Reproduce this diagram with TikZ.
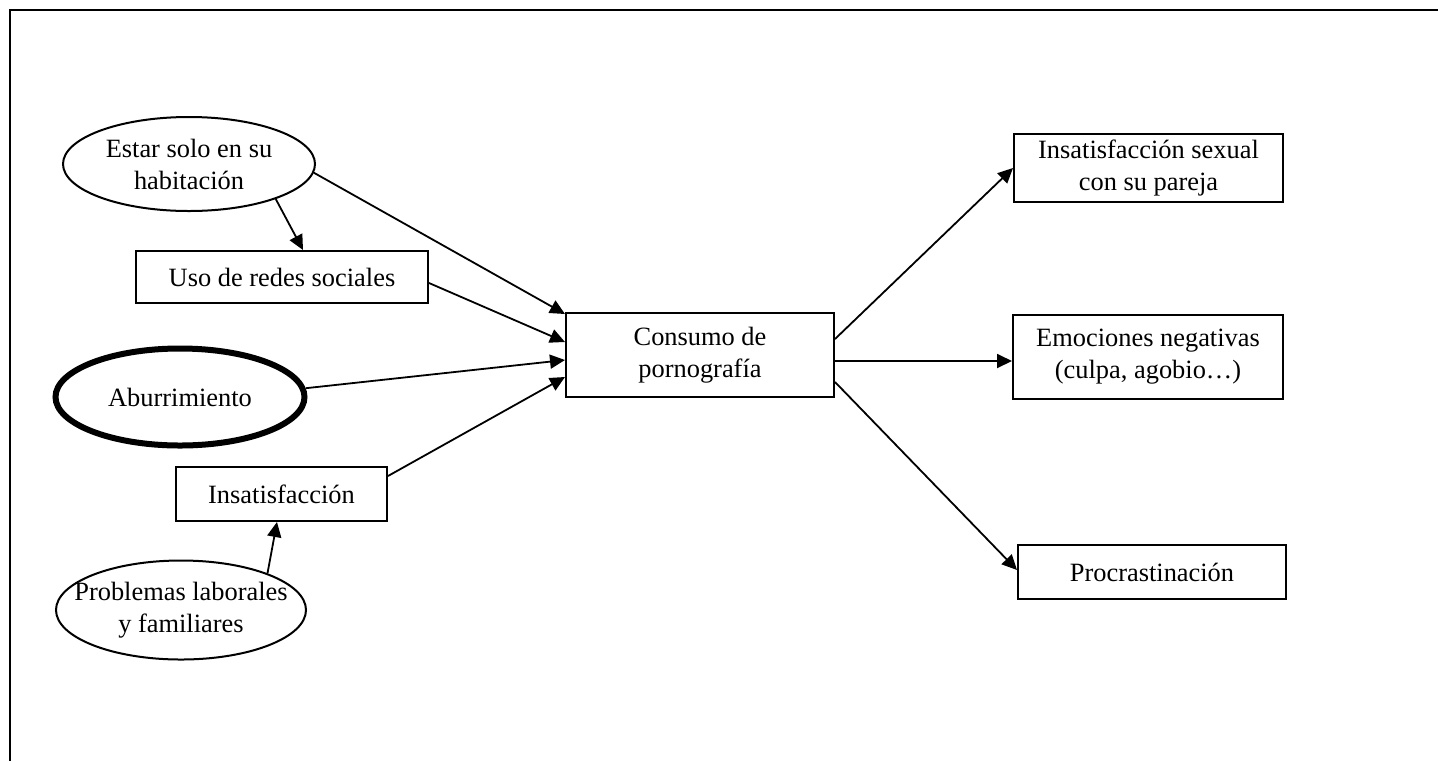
\documentclass[tikz,border=0pt]{standalone}
\usepackage{fontspec}
\setmainfont{Liberation Serif}
\usetikzlibrary{shapes.geometric,arrows.meta,calc}
\begin{document}
\begin{tikzpicture}[x=0.5pt,y=-0.5pt,
  every node/.style={font=\fontsize{13.2}{16}\selectfont, align=center, inner sep=0pt, line width=1pt},
  boxnode/.style={draw, rectangle},
  ellnode/.style={draw, ellipse},
  arr/.style={line width=0.9pt, -{Triangle[length=7.5pt,width=7pt]}}]
\useasboundingbox (0,0) rectangle (1438,761);
\draw[line width=1.4pt] (1438,10) -- (10,10) -- (10,761);

\node[ellnode, minimum width=126pt, minimum height=47pt] (estar) at (189,164) {Estar solo en su\\habitación};
\node[boxnode, minimum width=146pt, minimum height=26pt] (uso) at (282,277) {Uso de redes sociales};
\node[ellnode, line width=3pt, minimum width=124.5pt, minimum height=48.5pt] (abur) at (180,397) {Aburrimiento};
\node[boxnode, minimum width=105.5pt, minimum height=27pt] (insat) at (281.5,494) {Insatisfacción};
\node[ellnode, inner xsep=-10pt, minimum width=125pt, minimum height=49.5pt] (prob) at (181,610) {Problemas laborales\\y familiares};
\node[boxnode, minimum width=134pt, minimum height=42pt] (cons) at (700,355) {Consumo de\\pornografía};
\node[boxnode, minimum width=134.5pt, minimum height=34pt] (sex) at (1148.5,168) {Insatisfacción sexual\\con su pareja};
\node[boxnode, minimum width=135pt, minimum height=42pt] (emo) at (1148,357) {Emociones negativas\\(culpa, agobio…)};
\node[boxnode, minimum width=134pt, minimum height=27pt] (proc) at (1152,572) {Procrastinación};

\draw[arr] (estar.-22.5) -- ($(uso.north)+(21,0)$);
\draw[arr] (estar.-4) -- ($(cons.north west)+(0,2)$);
\draw[arr] ($(uso.east)+(0,6)$) -- ($(cons.north west)+(0,30)$);
\draw[arr] (abur.4) -- ($(cons.north west)+(0,48)$);
\draw[arr] ($(insat.north east)+(0,10)$) -- ($(cons.north west)+(0,65)$);
\draw[arr] (prob.23) -- ($(insat.south)+(-4.5,0)$);
\draw[arr] ($(cons.north east)+(0,27)$) -- (sex.west);
\draw[arr] ($(cons.east)+(0,6)$) -- ($(emo.west)+(0,4)$);
\draw[arr] ($(cons.east)+(0,27)$) -- ($(proc.west)+(0,-2)$);
\end{tikzpicture}
\end{document}
